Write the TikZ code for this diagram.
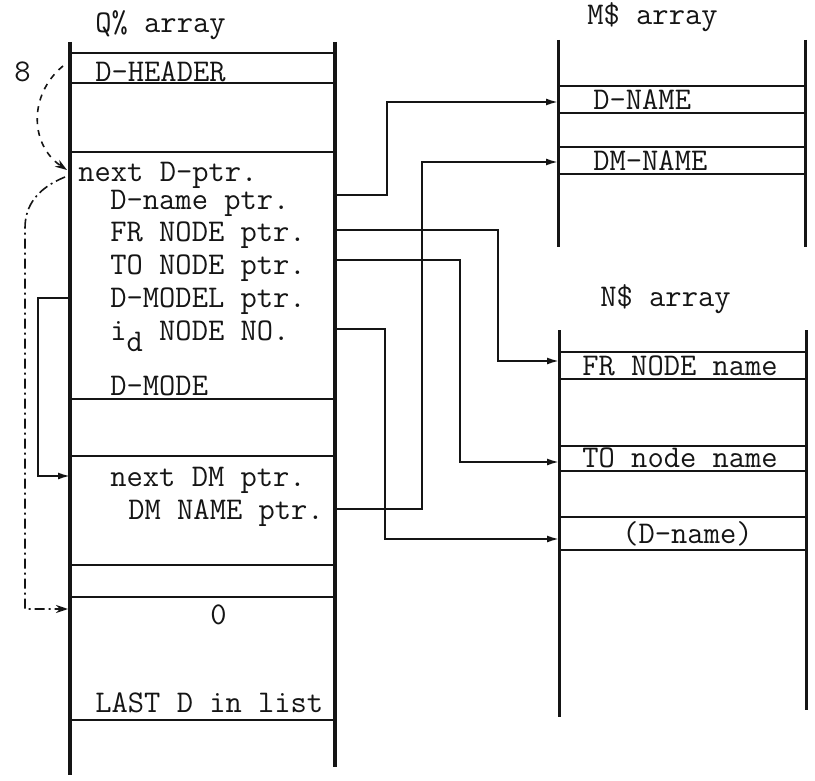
\documentclass[tikz,border=0pt]{standalone}
\usepackage{fontspec}
\definecolor{inkBlack}{HTML}{151515}
\usetikzlibrary{arrows.meta}

\tikzset{
  wall/.style={draw=inkBlack, line width=2pt},
  rwall/.style={draw=inkBlack, line width=1.5pt},
  slot/.style={draw=inkBlack, line width=0.9pt},
  cell/.style={anchor=west, inner sep=0pt, text height=9.6pt, text depth=0pt,
               text=inkBlack, font=\ttfamily\fontsize{15.8}{18}\selectfont},
  ptr/.style={draw=inkBlack, line width=0.9pt, -{Latex[length=6pt,width=3.5pt]}},
  link/.style={draw=inkBlack, line width=0.8pt, dashed, -{Stealth[length=6pt,width=4pt]}},
  chain/.style={draw=inkBlack, line width=0.8pt, dash pattern=on 5pt off 2pt on 1pt off 2pt,
                -{Stealth[length=6pt,width=4pt]}}
}

\begin{document}
\begin{tikzpicture}[x=0.5pt, y=-0.5pt]
  \useasboundingbox (0,0) rectangle (815,781);

  % Q% array
  \node[cell] (qTitle) at (95,23) {Q\% array};
  \draw[wall] (70,42) -- (70,775);
  \draw[wall] (335,42) -- (335,767);
  \foreach \yy in {53,83,152,399,456,565,597,720}
    \draw[slot] (70,\yy) -- (335,\yy);

  \node[cell] (eight)   at (14,72)  {8};
  \node[cell] (dHeader) at (95,72)  {D-HEADER};
  \node[cell] (nextD)   at (78,172) {next D-ptr.};
  \node[cell] (dName)   at (110,200) {D-name ptr.};
  \node[cell] (frNode)  at (110,232) {FR NODE ptr.};
  \node[cell] (toNode)  at (110,265) {TO NODE ptr.};
  \node[cell] (dModel)  at (110,298) {D-MODEL ptr.};
  \node[cell] (idNode)  at (110,331) {i\raisebox{-0.35em}{d} NODE NO.};
  \node[cell] (dMode)   at (110,386) {D-MODE};
  \node[cell] (nextDM)  at (110,477) {next DM ptr.};
  \node[cell] (dmName)  at (128,510) {DM NAME ptr.};
  \node[cell] (zero)    at (210,615) {0};
  \node[cell] (lastD)   at (95,703) {LAST D in list};

  % M$ array
  \node[cell] (mTitle) at (587,15) {M\$ array};
  \draw[rwall] (558,40) -- (558,247);
  \draw[rwall] (805,40) -- (805,247);
  \foreach \yy in {86,113,147,174}
    \draw[slot] (558,\yy) -- (805,\yy);
  \node[cell] (mDname)  at (593,100) {D-NAME};
  \node[cell] (mDMname) at (593,161) {DM-NAME};

  % N$ array
  \node[cell] (nTitle) at (600,297) {N\$ array};
  \draw[rwall] (559,330) -- (559,717);
  \draw[rwall] (806,330) -- (806,710);
  \foreach \yy in {352,379,446,471,517,550}
    \draw[slot] (559,\yy) -- (806,\yy);
  \node[cell] (nFr)    at (582,366) {FR NODE name};
  \node[cell] (nTo)    at (582,458) {TO node name};
  \node[cell] (nDname) at (622,534) {(D-name)};

  % ports and targets
  \coordinate (pDname) at (335,195);
  \coordinate (pFr)    at (335,230);
  \coordinate (pTo)    at (335,260);
  \coordinate (pId)    at (335,329);
  \coordinate (pDM)    at (335,509);
  \coordinate (tDname) at (558,102);
  \coordinate (tDM)    at (558,162);
  \coordinate (tFr)    at (559,361);
  \coordinate (tTo)    at (559,462);
  \coordinate (tId)    at (559,539);

  \draw[ptr] (pDname) -- ++(52,0) |- (tDname);
  \draw[ptr] (pFr) -- ++(163,0) |- (tFr);
  \draw[ptr] (pTo) -- ++(125,0) |- (tTo);
  \draw[ptr] (pId) -- ++(50,0) |- (tId);
  \draw[ptr] (pDM) -- ++(87,0) |- (tDM);

  % D-MODEL loop on the left
  \coordinate (pModel) at (70,298);
  \coordinate (tNextDM) at (70,476);
  \draw[ptr] (pModel) -- ++(-32,0) |- (tNextDM);

  % header and chain links
  \coordinate (hdrFoot) at (63,66);
  \coordinate (nextIn)  at (67,170);
  \coordinate (nextOut) at (65,177);
  \coordinate (zeroIn)  at (68,609);
  \draw[link] (hdrFoot) .. controls (28,95) and (30,145) .. (nextIn);
  \draw[chain] (nextOut) .. controls (38,188) and (25,205) .. (25,228) -- (25,609) -- (zeroIn);
\end{tikzpicture}
\end{document}
